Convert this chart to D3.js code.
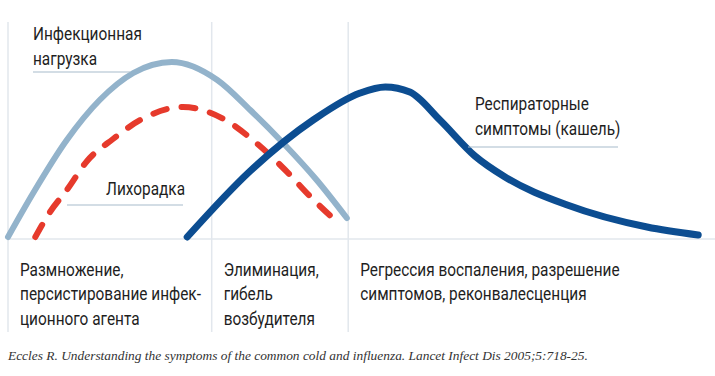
<!DOCTYPE html>
<html lang="ru">
<head>
<meta charset="utf-8">
<title>Симптомы простуды</title>
<script src="https://cdn.jsdelivr.net/npm/d3@7"></script>
<style>
    body { margin: 0; background: #fff; }
    .lbl {
        font-family: Roboto, "Noto Sans", sans-serif;
        font-size: 17.5px;
        fill: #1e1e1e;
    }
    .cite {
        font-family: "Liberation Serif", "DejaVu Serif", serif;
        font-style: italic;
        font-size: 13.4px;
        fill: #333;
    }
    .grid { stroke: #e2e7ed; stroke-width: 1.5; }
    .line { fill: none; stroke-linecap: round; stroke-linejoin: round; }
</style>
</head>
<body>
<div id="chart"></div>
<script>
// time on a 0..100 scale, level on a 0..100 scale
const loadT  = [0, 3.6, 8.4, 13.1, 17.9, 23.4, 29.9, 34.6, 39.3, 44.1, 48.4];
const loadV  = [1, 23, 49.5, 69.5, 83, 88.5, 79.5, 64.5, 48, 29.5, 10.5];

const feverT = [3.9, 6, 8.4, 11.3, 15, 18.9, 25, 31.3, 35.3, 39.6, 43.1, 47];
const feverV = [1, 13.5, 24.5, 39, 50, 59.5, 66, 59, 48.5, 34.5, 21.5, 8.5];

const respT  = [25.6, 34.6, 43.6, 50.3, 53.9, 57.4, 61.7, 66.7, 71.0, 79.9, 91.3, 98.6];
const respV  = [1, 34, 59.5, 73, 76, 73.5, 59.5, 41.5, 31, 17, 6, 2];

// phase boundaries (same time scale)
const phaseBounds = [0, 29.1, 48.6];

const seriesLabels = [["Инфекционная", "нагрузка"], ["Лихорадка"], ["Респираторные", "симптомы (кашель)"]];
const phaseLabels = [
    ["Размножение,", "персистирование инфек-", "ционного агента"],
    ["Элиминация,", "гибель", "возбудителя"],
    ["Регрессия воспаления, разрешение", "симптомов, реконвалесценция"]
];
const citation = "Eccles R. Understanding the symptoms of the common cold and influenza. Lancet Infect Dis 2005;5:718-25.";

const WIDTH = 715, HEIGHT = 376;
const SQUEEZE = 0.88; // the original type is a narrow face

const svg = d3.select("#chart").append("svg")
    .attr("width", WIDTH)
    .attr("height", HEIGHT);

const x = d3.scaleLinear().domain([0, 100]).range([8, 708]);
const y = d3.scaleLinear().domain([0, 100]).range([239, 39]);

// grid: phase dividers and baseline
svg.selectAll(".vgrid")
    .data(phaseBounds)
    .enter().append("line")
    .attr("class", "grid")
    .attr("x1", d => x(d)).attr("x2", d => x(d))
    .attr("y1", 22).attr("y2", 332);

svg.append("line")
    .attr("class", "grid")
    .attr("x1", x(0)).attr("x2", WIDTH)
    .attr("y1", y(0)).attr("y2", y(0));

const lineGen = d3.line()
    .x(d => x(d[0]))
    .y(d => y(d[1]))
    .curve(d3.curveMonotoneX);

const zip = (a, b) => a.map((v, i) => [v, b[i]]);

svg.append("path")
    .datum(zip(loadT, loadV))
    .attr("class", "line")
    .attr("d", lineGen)
    .attr("stroke", "#93b3cb")
    .attr("stroke-width", 6);

svg.append("path")
    .datum(zip(feverT, feverV))
    .attr("class", "line")
    .attr("d", lineGen)
    .attr("stroke", "#e63a2c")
    .attr("stroke-width", 6)
    .attr("stroke-dasharray", "14,15");

svg.append("path")
    .datum(zip(respT, respV))
    .attr("class", "line")
    .attr("d", lineGen)
    .attr("stroke", "#0c4d91")
    .attr("stroke-width", 7);

function multiline(px, py, lines, step) {
    let t = svg.append("text")
        .attr("class", "lbl")
        .attr("transform", "translate(" + px + "," + py + ") scale(" + SQUEEZE + ",1)");
    lines.forEach((s, j) => {
        t.append("tspan").attr("x", 0).attr("y", j * step).text(s);
    });
}

// series labels with leader lines
const labelPos = [
    {x: 33, y: 40, lx1: 33, lx2: 130, ly: 72},
    {x: 106, y: 195, lx1: 67, lx2: 183, ly: 205},
    {x: 475, y: 110, lx1: 468, lx2: 618, ly: 147}
];

seriesLabels.forEach((lines, i) => {
    let p = labelPos[i];
    multiline(p.x, p.y, lines, 25);
    svg.append("line")
        .attr("x1", p.lx1).attr("x2", p.lx2)
        .attr("y1", p.ly).attr("y2", p.ly)
        .attr("stroke", "#a7bccb")
        .attr("stroke-width", 1.2);
});

// phase labels
phaseLabels.forEach((lines, i) => {
    multiline(x(phaseBounds[i]) + 12, 276, lines, 24.5);
});

svg.append("text")
    .attr("class", "cite")
    .attr("x", 8)
    .attr("y", 360)
    .text(citation);
</script>
</body>
</html>
